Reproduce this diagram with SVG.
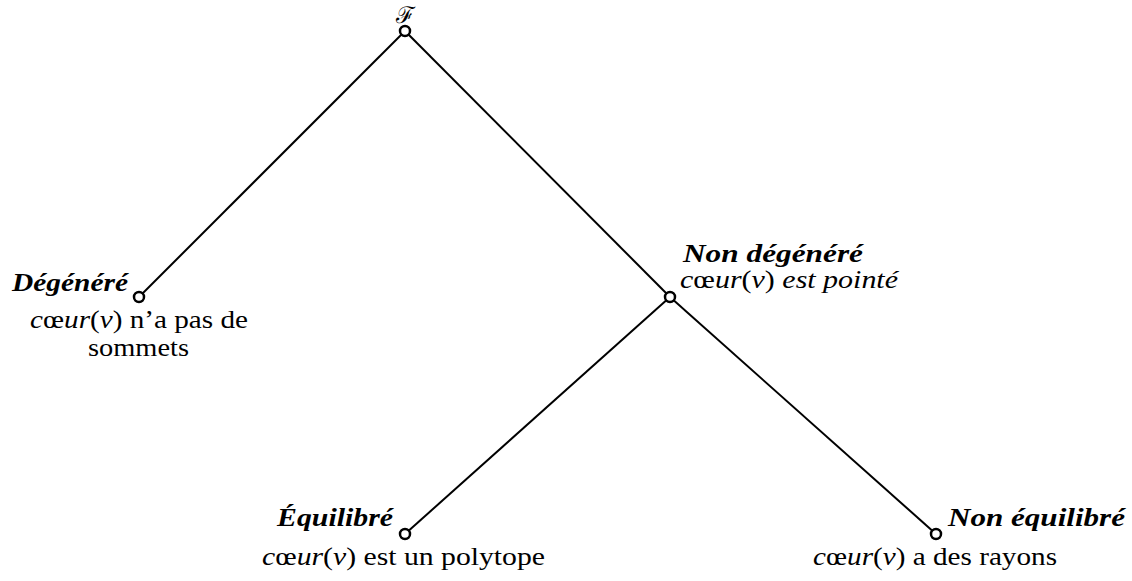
<svg xmlns="http://www.w3.org/2000/svg" width="1132" height="581" viewBox="0 0 1132 581">
<style>
.t{font-family:"Liberation Serif","DejaVu Serif",serif;font-size:25px;fill:#000}
.b{font-weight:bold;font-style:italic;font-size:25px}
.i{font-style:italic}
.e{stroke:#000;stroke-width:2;fill:none}
.n{stroke:#000;stroke-width:2.5;fill:#fff}
</style>
<rect width="1132" height="581" fill="#fff"/>
<g id="connectors">
<line class="e" x1="405" y1="31" x2="139" y2="297"/>
<line class="e" x1="405" y1="31" x2="670" y2="297"/>
<line class="e" x1="670" y1="297" x2="405" y2="534"/>
<line class="e" x1="670" y1="297" x2="936" y2="534"/>
</g>
<g id="root">
<circle class="n" cx="405" cy="31" r="5"/>
<text x="405" y="23" text-anchor="middle" style="font-family:'DejaVu Serif',serif;font-size:23px">ℱ</text>
</g>
<g id="degenere">
<circle class="n" cx="139" cy="297" r="5"/>
<text class="t b" x="12" y="291" textLength="116" lengthAdjust="spacingAndGlyphs">Dégénéré</text>
<text class="t" x="30" y="328" textLength="218" lengthAdjust="spacingAndGlyphs"><tspan class="i">c</tspan>œ<tspan class="i">ur</tspan>(<tspan class="i">v</tspan>) n’a pas de</text>
<text class="t" x="88" y="356" textLength="101" lengthAdjust="spacingAndGlyphs">sommets</text>
</g>
<g id="nondegenere">
<circle class="n" cx="670" cy="297" r="5"/>
<text class="t b" x="683" y="262" textLength="180" lengthAdjust="spacingAndGlyphs">Non dégénéré</text>
<text class="t" x="680" y="288" textLength="218" lengthAdjust="spacingAndGlyphs"><tspan class="i">c</tspan>œ<tspan class="i">ur</tspan>(<tspan class="i">v</tspan>) <tspan class="i">est pointé</tspan></text>
</g>
<g id="equilibre">
<circle class="n" cx="405" cy="534" r="5"/>
<text class="t b" x="277" y="526" textLength="116" lengthAdjust="spacingAndGlyphs">Équilibré</text>
<text class="t" x="262" y="565" textLength="283" lengthAdjust="spacingAndGlyphs"><tspan class="i">c</tspan>œ<tspan class="i">ur</tspan>(<tspan class="i">v</tspan>) est un polytope</text>
</g>
<g id="nonequilibre">
<circle class="n" cx="936" cy="534" r="5"/>
<text class="t b" x="948" y="526" textLength="177" lengthAdjust="spacingAndGlyphs">Non équilibré</text>
<text class="t" x="813" y="565" textLength="244" lengthAdjust="spacingAndGlyphs"><tspan class="i">c</tspan>œ<tspan class="i">ur</tspan>(<tspan class="i">v</tspan>) a des rayons</text>
</g>
</svg>
